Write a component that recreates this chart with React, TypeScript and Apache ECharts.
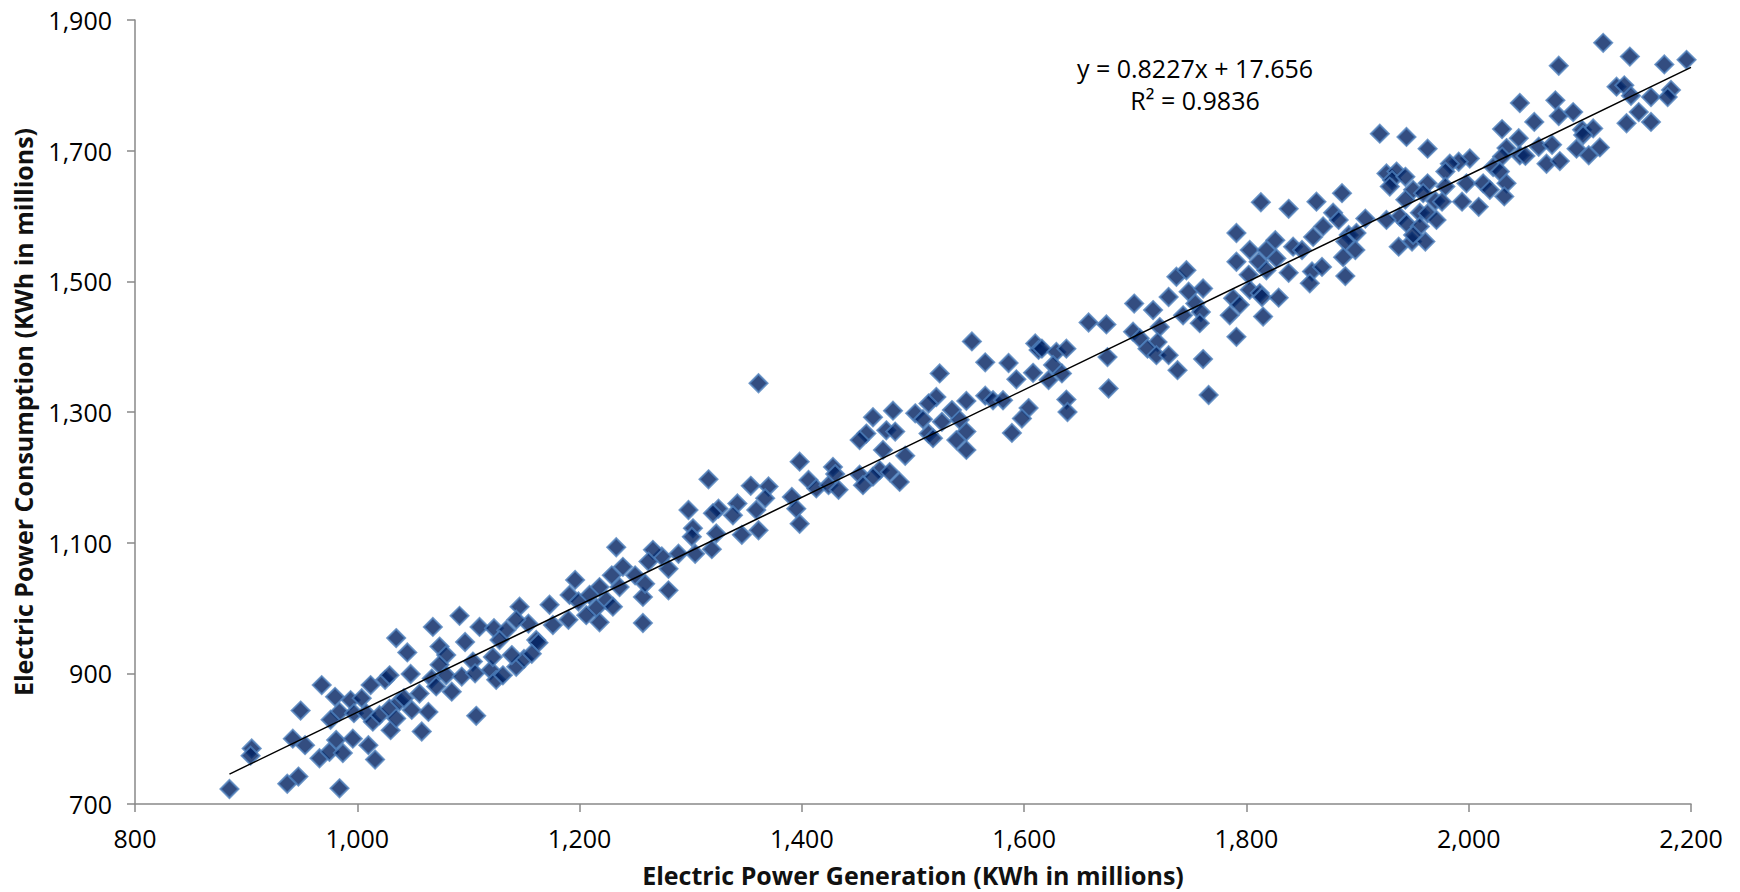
import { useEffect, useRef } from "react";
import * as echarts from "echarts";

// Axis settings
const xMin = 800;
const xMax = 2200;
const xStep = 200;
const yMin = 700;
const yMax = 1900;
const yStep = 200;

const xTitle = "Electric Power Generation (KWh in millions)";
const yTitle = "Electric Power Consumption (KWh in millions)";

// Trendline (from the chart's equation label)
const slope = 0.8227;
const intercept = 17.656;
const trendStart = 885;
const trendEnd = 2200;
const eqLine1 = "y = 0.8227x + 17.656";
const eqLine2 = "R² = 0.9836";

// [generation, consumption] in KWh millions
const lowBand: [number, number][] = [
  [885, 723], [905, 785], [904, 774], [937, 731], [947, 742], [942, 800], [953, 790], [949, 843],
  [968, 882], [980, 864], [984, 841], [976, 829], [966, 770], [975, 780], [981, 798], [987, 778],
  [984, 724], [994, 859], [1004, 862], [997, 839], [996, 800], [1010, 790], [1016, 768], [1012, 882],
  [1008, 839], [1014, 826], [1020, 836], [1025, 890], [1029, 897], [1029, 846], [1030, 813], [1035, 831],
  [1035, 954], [1045, 932], [1038, 857], [1048, 899], [1049, 844], [1042, 862], [1058, 811], [1056, 869],
  [1064, 841], [1067, 892], [1068, 971], [1074, 941], [1080, 928], [1074, 913], [1071, 880], [1080, 897],
  [1085, 872], [1092, 988], [1097, 948], [1094, 895], [1107, 835], [1110, 971], [1104, 918], [1106, 900],
  [1120, 905], [1125, 890], [1123, 969], [1122, 925], [1131, 897], [1143, 910], [1150, 922],
];

const lowerMidBand: [number, number][] = [
  [1316, 1197], [1354, 1187], [1298, 1150], [1325, 1152], [1320, 1145], [1342, 1160], [1338, 1142], [1346, 1112],
  [1359, 1150], [1361, 1119], [1302, 1122], [1301, 1109], [1304, 1083], [1323, 1114], [1319, 1090], [1289, 1083],
  [1280, 1060], [1274, 1079], [1266, 1089], [1262, 1071], [1257, 1017], [1257, 977], [1233, 1093], [1239, 1063],
  [1229, 1050], [1250, 1050], [1259, 1037], [1280, 1027], [1236, 1032], [1218, 1032], [1224, 1012], [1230, 1002],
  [1196, 1043], [1191, 1020], [1199, 1010], [1209, 1020], [1215, 1000], [1206, 989], [1218, 978], [1190, 982],
  [1173, 1005], [1176, 974], [1146, 1002], [1154, 976], [1143, 982], [1161, 951], [1163, 947], [1134, 966],
  [1128, 951], [1157, 930], [1139, 928],
];

const midBand: [number, number][] = [
  [1361, 1344], [1553, 1408], [1524, 1359], [1565, 1376], [1586, 1375], [1593, 1350], [1608, 1360], [1610, 1405],
  [1613, 1395], [1565, 1325], [1572, 1318], [1581, 1318], [1604, 1306], [1598, 1290], [1589, 1268], [1548, 1317],
  [1535, 1303], [1542, 1288], [1548, 1270], [1539, 1257], [1548, 1242], [1521, 1323], [1514, 1313], [1502, 1298],
  [1509, 1289], [1526, 1285], [1514, 1267], [1518, 1260], [1482, 1302], [1464, 1292], [1476, 1272], [1484, 1270],
  [1458, 1267], [1452, 1257], [1473, 1242], [1493, 1233], [1398, 1224], [1428, 1216], [1430, 1205], [1452, 1204],
  [1470, 1211], [1479, 1208], [1464, 1201], [1455, 1188], [1488, 1193], [1406, 1196], [1413, 1183], [1424, 1188],
  [1433, 1181], [1370, 1186], [1367, 1168], [1391, 1170], [1395, 1152], [1398, 1129],
];

const upperMidBand: [number, number][] = [
  [1813, 1621], [1838, 1611], [1863, 1622], [1791, 1574], [1803, 1548], [1818, 1548], [1826, 1563], [1791, 1530],
  [1811, 1530], [1827, 1535], [1818, 1517], [1838, 1513], [1842, 1553], [1850, 1548], [1860, 1568], [1859, 1515],
  [1857, 1497], [1802, 1510], [1803, 1487], [1812, 1482], [1814, 1476], [1829, 1475], [1788, 1474], [1794, 1464],
  [1785, 1448], [1815, 1446], [1791, 1415], [1737, 1507], [1746, 1517], [1748, 1484], [1761, 1489], [1730, 1476],
  [1754, 1466], [1759, 1453], [1743, 1448], [1758, 1436], [1699, 1466], [1716, 1456], [1722, 1430], [1698, 1423],
  [1704, 1413], [1720, 1407], [1711, 1397], [1719, 1387], [1730, 1387], [1738, 1364], [1761, 1381], [1766, 1326],
  [1658, 1437], [1674, 1434], [1675, 1384], [1676, 1336], [1616, 1397], [1629, 1392], [1638, 1397], [1626, 1372],
  [1634, 1359], [1622, 1349], [1638, 1319], [1639, 1300],
];

const highBand: [number, number][] = [
  [2121, 1865], [2145, 1844], [2176, 1832], [2196, 1839], [2081, 1830], [2046, 1773], [2078, 1777], [2081, 1753],
  [2094, 1759], [2059, 1744], [2133, 1798], [2140, 1800], [2146, 1784], [2164, 1782], [2182, 1793], [2179, 1782],
  [2153, 1759], [2142, 1742], [2164, 1744], [2030, 1733], [2045, 1719], [2034, 1704], [2063, 1706], [2075, 1709],
  [2102, 1732], [2112, 1734], [2103, 1724], [2097, 1703], [2118, 1705], [2108, 1693], [2046, 1693], [2051, 1692],
  [2070, 1680], [2082, 1684], [2030, 1691], [1920, 1726], [1944, 1721], [1963, 1703], [2001, 1688], [1991, 1683],
  [1983, 1680], [1979, 1668], [2022, 1675], [2028, 1668], [1926, 1665], [1935, 1668], [1931, 1655], [1943, 1660],
  [1929, 1645], [1963, 1650], [1979, 1645], [1998, 1650], [2013, 1650], [2034, 1650], [2019, 1640], [2032, 1630],
  [1950, 1640], [1959, 1635], [1943, 1625], [1970, 1623], [1976, 1622], [1994, 1622], [2009, 1614], [1956, 1605],
  [1938, 1599], [1963, 1604], [1971, 1594], [1926, 1594], [1944, 1589], [1956, 1584], [1937, 1553], [1949, 1561],
  [1961, 1561], [1950, 1571], [1907, 1596], [1886, 1635], [1878, 1605], [1883, 1594], [1869, 1584], [1892, 1571],
  [1899, 1574], [1889, 1561], [1898, 1548], [1887, 1537], [1868, 1522], [1889, 1508],
];

const FONT = "'Open Sans', 'Noto Sans', sans-serif";

export default function App() {
  const ref = useRef<HTMLDivElement>(null);

  useEffect(() => {
    if (!ref.current) return;
    const chart = echarts.init(ref.current, null, { renderer: "svg" });
    const points = [...lowBand, ...lowerMidBand, ...midBand, ...upperMidBand, ...highBand];
    const trend = [
      [trendStart, slope * trendStart + intercept],
      [trendEnd, slope * trendEnd + intercept],
    ];
    const fmt = (v: number) => v.toLocaleString("en-US");
    const axisLine = { show: true, lineStyle: { color: "#898989", width: 1.5 } };
    const axisTick = { show: true, length: 8, lineStyle: { color: "#898989", width: 1.5 } };

    chart.setOption({
      animation: false,
      backgroundColor: "#ffffff",
      grid: { left: 135, right: 49, top: 20, bottom: 88, containLabel: false, outerBoundsMode: "none" },
      xAxis: {
        type: "value",
        min: xMin,
        max: xMax,
        interval: xStep,
        name: xTitle,
        nameLocation: "middle",
        nameGap: 58,
        nameTextStyle: { fontFamily: FONT, fontSize: 25, fontWeight: "bold", color: "#111" },
        axisLine,
        axisTick: { ...axisTick, inside: false },
        axisLabel: { formatter: fmt, fontFamily: FONT, fontSize: 25, color: "#000", margin: 21 },
        splitLine: { show: false },
      },
      yAxis: {
        type: "value",
        min: yMin,
        max: yMax,
        interval: yStep,
        name: yTitle,
        nameLocation: "middle",
        nameGap: 100,
        nameTextStyle: { fontFamily: FONT, fontSize: 25, fontWeight: "bold", color: "#111" },
        axisLine,
        axisTick: { ...axisTick, inside: false },
        axisLabel: { formatter: fmt, fontFamily: FONT, fontSize: 25, color: "#000", margin: 23 },
        splitLine: { show: false },
      },
      series: [
        {
          type: "scatter",
          symbol: "diamond",
          symbolSize: 18,
          itemStyle: { color: "#002060", borderColor: "#4F81BD", borderWidth: 2 },
          data: points,
          z: 2,
        },
        {
          type: "line",
          data: trend,
          symbol: "none",
          silent: true,
          lineStyle: { color: "#000", width: 1.5 },
          z: 3,
        },
      ],
      graphic: [
        {
          type: "text",
          x: 1195,
          y: 68,
          style: {
            text: eqLine1,
            fontFamily: FONT,
            fontSize: 25,
            fill: "#000",
            align: "center",
            verticalAlign: "middle",
          },
        },
        {
          type: "text",
          x: 1195,
          y: 100,
          style: {
            text: eqLine2,
            fontFamily: FONT,
            fontSize: 25,
            fill: "#000",
            align: "center",
            verticalAlign: "middle",
          },
        },
      ],
    });

    return () => chart.dispose();
  }, []);

  return (
    <div
      ref={ref}
      style={{ position: "fixed", left: 0, top: 0, width: 1740, height: 892, background: "#fff" }}
    />
  );
}
